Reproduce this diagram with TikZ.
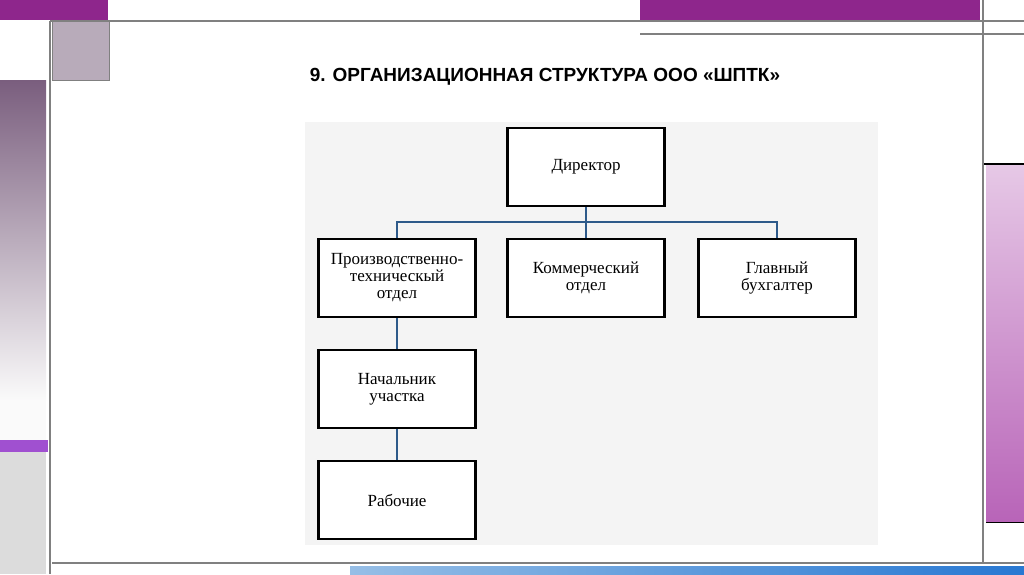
\documentclass[tikz,border=0pt]{standalone}
\usepackage{fontspec}
\setmainfont{Liberation Serif}
\newfontfamily\titlefont{Liberation Sans}
\definecolor{purp}{RGB}{142,38,140}
\definecolor{grad1}{RGB}{122,94,126}
\definecolor{offw}{RGB}{250,250,250}
\definecolor{violet2}{RGB}{160,80,208}
\definecolor{lgrey}{RGB}{220,220,220}
\definecolor{boxg}{RGB}{184,171,186}
\definecolor{lineg}{RGB}{128,128,128}
\definecolor{pink1}{RGB}{230,200,230}
\definecolor{pink2}{RGB}{184,100,184}
\definecolor{blue1}{RGB}{150,190,230}
\definecolor{blue2}{RGB}{40,120,210}
\definecolor{bgg}{RGB}{244,244,244}
\definecolor{connc}{RGB}{46,90,138}
\begin{document}
\begin{tikzpicture}[x=1pt,y=-1pt,
  box/.style={draw=black,line width=2.2pt,fill=white,minimum width=157pt,minimum height=78pt,align=center,font=\fontsize{17}{17}\selectfont,inner sep=1pt},
  conn/.style={draw=connc,line width=2pt},
  gl/.style={draw=lineg,line width=2.5pt}]
\useasboundingbox (0,0) rectangle (1024,574);
\fill[white] (0,0) rectangle (1024,574);
% decorations
\fill[purp] (0,0) rectangle (108,20);
\fill[purp] (640,0) rectangle (980,20);
\fill[top color=grad1,bottom color=offw] (0,80) rectangle (46,400);
\fill[offw] (0,400) rectangle (46,440);
\fill[violet2] (0,440) rectangle (48,452);
\fill[lgrey] (0,452) rectangle (46,574);
\filldraw[fill=boxg,draw=lineg,line width=1pt] (52,21) rectangle (109,80);
\draw[gl] (50,21) -- (50,574);
\draw[gl,line width=1.5pt] (50,21) -- (1024,21);
\draw[gl,line width=1.5pt] (640,34) -- (1024,34);
\draw[gl] (983,0) -- (983,563);
\draw[black,line width=1.5pt] (984,164) -- (1024,164);
\fill[top color=pink1,bottom color=pink2] (986,165) rectangle (1024,522);
\draw[black,line width=0.8pt] (986,522) -- (1024,522);
\draw[gl] (52,563) -- (1024,563);
\fill[left color=blue1,right color=blue2] (350,566) rectangle (1024,574);
% title
\node[font=\titlefont\bfseries\fontsize{19}{19}\selectfont] (title) at (545,77) {9. ОРГАНИЗАЦИОННАЯ СТРУКТУРА ООО «ШПТК»};
% diagram
\fill[bgg] (305,122) rectangle (878,545);
\node[box] (dir) at (586,167) {Директор};
\node[box] (pto) at (397,278) {Производственно-\\техническый\\отдел};
\node[box] (kom) at (586,278) {Коммерческий\\отдел};
\node[box] (buh) at (777,278) {Главный\\бухгалтер};
\node[box] (nach) at (397,389) {Начальник\\участка};
\node[box] (rab) at (397,500) {Рабочие};
\coordinate (j) at (586,222);
\draw[conn] (dir.south) -- (j);
\draw[conn] (pto.north) |- (j) -| (buh.north);
\draw[conn] (j) -- (kom.north);
\draw[conn] (pto) -- (nach);
\draw[conn] (nach) -- (rab);
\end{tikzpicture}
\end{document}
